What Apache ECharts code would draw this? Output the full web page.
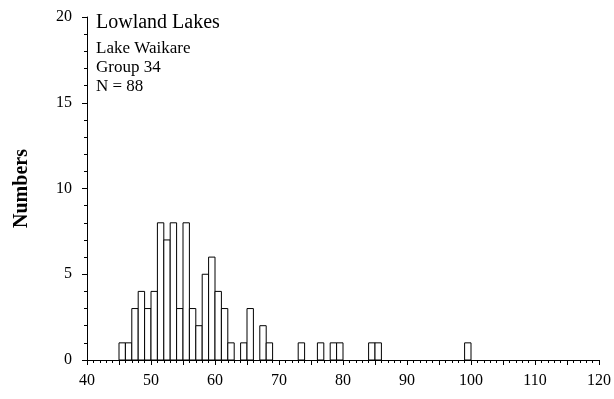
<!DOCTYPE html>
<html>
<head>
<meta charset="utf-8">
<script src="https://cdn.jsdelivr.net/npm/echarts@6/dist/echarts.min.js"></script>
<style>
  html, body { margin: 0; padding: 0; background: #fff; }
  #chart { width: 614px; height: 399px; }
</style>
</head>
<body>
<div id="chart"></div>
<script>
// Length-frequency histogram, 1-unit bins (bin start -> count)
const binStarts = [45, 46, 47, 48, 49, 50, 51, 52, 53, 54, 55, 56, 57, 58, 59, 60, 61, 62, 63, 64, 65, 66, 67, 68, 73, 76, 78, 79, 84, 85, 99];
const counts    = [ 1,  1,  3,  4,  3,  4,  8,  7,  8,  3,  8,  3,  2,  5,  6,  4,  3,  1,  0,  1,  3,  0,  2,  1,  1,  1,  1,  1,  1,  1,  1];
const binWidth = 1;

const titleLines = ['Lowland Lakes', 'Lake Waikare', 'Group 34', 'N = 88'];
const yAxisTitle = 'Numbers';

const serif = '"Liberation Serif", "Times New Roman", Times, serif';

const histData = binStarts.map((b, i) => [b, counts[i]]);

const chart = echarts.init(document.getElementById('chart'), null, { renderer: 'canvas' });

// Header text block, placed by vertical middle positions
function headerText(text, y, size) {
  return {
    type: 'text', x: 96, y: y,
    style: { text: text, font: size + 'px ' + serif, fill: '#000', verticalAlign: 'middle', align: 'left' }
  };
}

chart.setOption({
  backgroundColor: '#ffffff',
  animation: false,
  grid: { left: 87, right: 14, top: 17, bottom: 39 },
  xAxis: {
    type: 'value',
    min: 40, max: 120, interval: 5,
    axisLine: { show: true, lineStyle: { color: '#000', width: 1 } },
    axisTick: { show: true, inside: false, length: 5, lineStyle: { color: '#000' } },
    minorTick: { show: true, splitNumber: 5, length: 3, lineStyle: { color: '#000' } },
    splitLine: { show: false },
    axisLabel: {
      margin: 13, color: '#000', fontFamily: serif, fontSize: 16,
      formatter: v => (v % 10 === 0 ? String(v) : '')
    }
  },
  yAxis: {
    type: 'value',
    min: 0, max: 20, interval: 5,
    name: yAxisTitle,
    nameLocation: 'middle',
    nameGap: 55,
    nameTextStyle: { fontFamily: serif, fontSize: 20, fontWeight: 'bold', color: '#000' },
    axisLine: { show: true, lineStyle: { color: '#000', width: 1 } },
    axisTick: { show: true, inside: false, length: 5, lineStyle: { color: '#000' } },
    minorTick: { show: true, splitNumber: 5, length: 3, lineStyle: { color: '#000' } },
    splitLine: { show: false },
    axisLabel: { margin: 15, color: '#000', fontFamily: serif, fontSize: 16 }
  },
  graphic: [
    headerText(titleLines[0], 23, 20),
    headerText(titleLines[1], 49, 17),
    headerText(titleLines[2], 68, 17),
    headerText(titleLines[3], 87, 17)
  ],
  series: [{
    type: 'custom',
    data: histData,
    encode: { x: 0, y: 1 },
    renderItem: function (params, api) {
      const start = api.value(0);
      const n = api.value(1);
      if (!n) return null;
      const p0 = api.coord([start, 0]);
      const p1 = api.coord([start + binWidth, n]);
      return {
        type: 'rect',
        shape: { x: p0[0], y: p1[1], width: p1[0] - p0[0], height: p0[1] - p1[1] },
        style: { fill: '#fff', stroke: '#000', lineWidth: 1 }
      };
    }
  }]
});
</script>
</body>
</html>
